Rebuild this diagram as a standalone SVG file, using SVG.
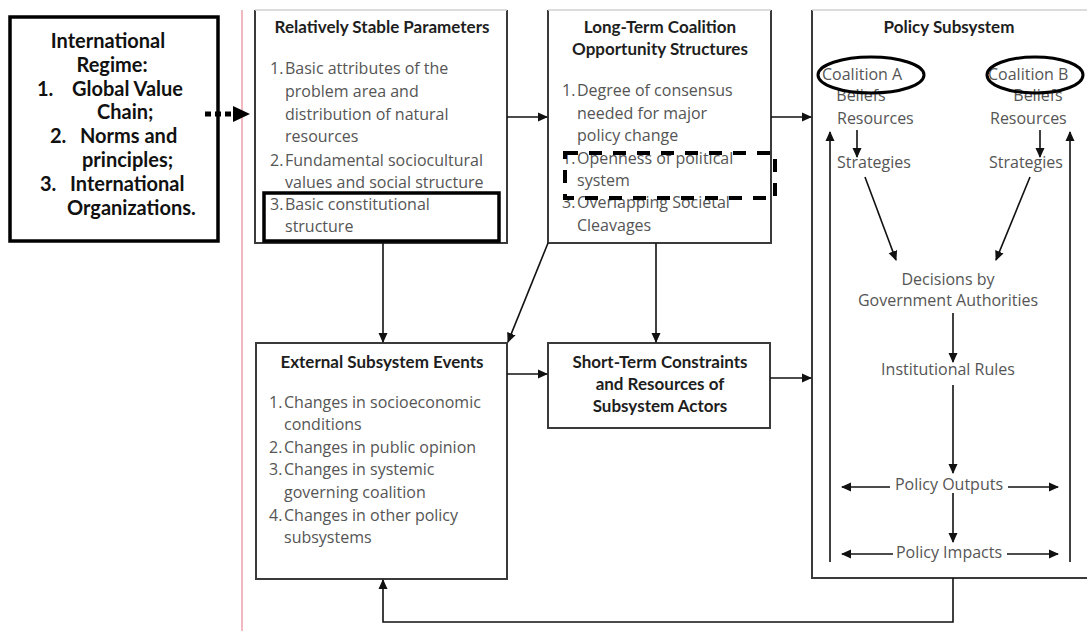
<svg xmlns="http://www.w3.org/2000/svg" width="1087" height="631" viewBox="0 0 1087 631">
<style>
.box{fill:#fff;stroke:#3a3a3a;stroke-width:2}
.topedge{stroke:#d0d0d0;stroke-width:1.5}
.title{font-family:Lato,"Liberation Sans",sans-serif;font-weight:bold;font-size:17px;fill:#1e1e1e;text-anchor:middle}
.body{font-family:"Open Sans","Liberation Sans",sans-serif;font-size:16px;fill:#555}
.mid{text-anchor:middle}
.reg{font-family:Lato,"Liberation Sans",sans-serif;font-weight:bold;font-size:20px;fill:#111}
.conn{stroke:#111;stroke-width:1.6;fill:none}
.thick{fill:none;stroke:#000;stroke-width:3.5}
</style>
<defs>
<marker id="ah" markerWidth="10" markerHeight="10" refX="9" refY="5" orient="auto" markerUnits="userSpaceOnUse">
<path d="M0,0.5 L10,5 L0,9.5 Z" fill="#111"/>
</marker>
</defs>

<line x1="242" y1="10" x2="242" y2="631" stroke="#f2b8bf" stroke-width="2"/>

<g id="international-regime">
<rect x="10" y="17" width="208" height="224" class="thick"/>
<text class="reg" x="108" y="48" text-anchor="middle">International</text>
<text class="reg" x="112" y="72" text-anchor="middle">Regime:</text>
<text class="reg" x="37" y="96">1.</text>
<text class="reg" x="72" y="96">Global Value</text>
<text class="reg" x="97" y="119">Chain;</text>
<text class="reg" x="50" y="143">2.</text>
<text class="reg" x="80" y="143">Norms and</text>
<text class="reg" x="82" y="167">principles;</text>
<text class="reg" x="40" y="191">3.</text>
<text class="reg" x="70" y="191">International</text>
<text class="reg" x="67" y="215">Organizations.</text>
</g>

<g id="stable-parameters">
<path class="box" d="M255,10 V243 H507 V10"/>
<line class="topedge" x1="255" y1="10" x2="507" y2="10"/>
<text class="title" x="382" y="33">Relatively Stable Parameters</text>
<text class="body" x="270" y="74">1.</text><text class="body" x="285" y="74">Basic attributes of the</text>
<text class="body" x="285" y="97">problem area and</text>
<text class="body" x="285" y="120">distribution of natural</text>
<text class="body" x="285" y="142">resources</text>
<text class="body" x="270" y="166">2.</text><text class="body" x="285" y="166">Fundamental sociocultural</text>
<text class="body" x="285" y="188">values and social structure</text>
<text class="body" x="270" y="210">3.</text><text class="body" x="285" y="210">Basic constitutional</text>
<text class="body" x="285" y="232">structure</text>
<rect x="264" y="193" width="235" height="48" class="thick"/>
</g>

<g id="long-term-structures">
<path class="box" d="M548,10 V243 H771 V10"/>
<line class="topedge" x1="548" y1="10" x2="771" y2="10"/>
<text class="title" x="660" y="33">Long-Term Coalition</text>
<text class="title" x="660" y="55">Opportunity Structures</text>
<text class="body" x="562" y="96">1.</text><text class="body" x="577" y="96">Degree of consensus</text>
<text class="body" x="577" y="119">needed for major</text>
<text class="body" x="577" y="141">policy change</text>
<text class="body" x="562" y="164">1.</text><text class="body" x="577" y="164">Openness of political</text>
<text class="body" x="577" y="186">system</text>
<text class="body" x="562" y="208">3.</text><text class="body" x="577" y="208">Overlapping Societal</text>
<text class="body" x="577" y="231">Cleavages</text>
<rect x="565" y="153" width="210" height="45" fill="none" stroke="#000" stroke-width="4" stroke-dasharray="13 11"/>
</g>

<g id="external-events">
<rect class="box" x="256" y="343" width="251" height="236"/>
<text class="title" x="382" y="368">External Subsystem Events</text>
<text class="body" x="269" y="408">1.</text><text class="body" x="284" y="408">Changes in socioeconomic</text>
<text class="body" x="284" y="430">conditions</text>
<text class="body" x="269" y="453">2.</text><text class="body" x="284" y="453">Changes in public opinion</text>
<text class="body" x="269" y="475">3.</text><text class="body" x="284" y="475">Changes in systemic</text>
<text class="body" x="284" y="498">governing coalition</text>
<text class="body" x="269" y="521">4.</text><text class="body" x="284" y="521">Changes in other policy</text>
<text class="body" x="284" y="543">subsystems</text>
</g>

<g id="short-term-constraints">
<rect class="box" x="548" y="343" width="222" height="85"/>
<text class="title" x="660" y="368">Short-Term Constraints</text>
<text class="title" x="660" y="390">and Resources of</text>
<text class="title" x="660" y="412">Subsystem Actors</text>
</g>

<g id="policy-subsystem">
<path class="box" d="M812,10 V578 H1087"/>
<line class="topedge" x1="812" y1="10" x2="1087" y2="10"/>
<text class="title" x="949" y="33">Policy Subsystem</text>
<text class="body" x="822" y="80">Coalition A</text>
<text class="body mid" x="861" y="101">Beliefs</text>
<text class="body" x="837" y="124">Resources</text>
<text class="body" x="837" y="168">Strategies</text>
<ellipse cx="871" cy="75" rx="53" ry="18" fill="none" stroke="#000" stroke-width="3"/>
<text class="body" x="988" y="80">Coalition B</text>
<text class="body mid" x="1038" y="101">Beliefs</text>
<text class="body" x="990" y="124">Resources</text>
<text class="body" x="989" y="168">Strategies</text>
<ellipse cx="1035" cy="75" rx="48" ry="18" fill="none" stroke="#000" stroke-width="3"/>
<text class="body mid" x="948" y="285">Decisions by</text>
<text class="body mid" x="948" y="306">Government Authorities</text>
<text class="body mid" x="948" y="375">Institutional Rules</text>
<text class="body mid" x="949" y="490">Policy Outputs</text>
<text class="body mid" x="949" y="558">Policy Impacts</text>
</g>

<g id="connectors">
<line x1="205" y1="114" x2="233" y2="114" stroke="#000" stroke-width="5" stroke-dasharray="6 4"/>
<polygon points="233,106 250,114 233,122" fill="#000"/>
<line class="conn" x1="507" y1="117" x2="547" y2="117" marker-end="url(#ah)"/>
<line class="conn" x1="771" y1="117" x2="811" y2="117" marker-end="url(#ah)"/>
<line class="conn" x1="383" y1="243" x2="383" y2="342" marker-end="url(#ah)"/>
<line class="conn" x1="656" y1="243" x2="656" y2="342" marker-end="url(#ah)"/>
<line class="conn" x1="548" y1="243" x2="508" y2="342" marker-end="url(#ah)"/>
<line class="conn" x1="507" y1="374" x2="547" y2="374" marker-end="url(#ah)"/>
<line class="conn" x1="770" y1="378" x2="811" y2="378" marker-end="url(#ah)"/>
<path class="conn" d="M953,578 V622 H383 V580" marker-end="url(#ah)"/>
<line class="conn" x1="857" y1="130" x2="857" y2="157" marker-end="url(#ah)"/>
<line class="conn" x1="1040" y1="130" x2="1040" y2="157" marker-end="url(#ah)"/>
<line class="conn" x1="830" y1="562" x2="830" y2="132" marker-end="url(#ah)"/>
<line class="conn" x1="1070" y1="562" x2="1070" y2="132" marker-end="url(#ah)"/>
<line class="conn" x1="865" y1="177" x2="896" y2="260" marker-end="url(#ah)"/>
<line class="conn" x1="1030" y1="177" x2="996" y2="260" marker-end="url(#ah)"/>
<line class="conn" x1="953" y1="313" x2="953" y2="362" marker-end="url(#ah)"/>
<line class="conn" x1="953" y1="385" x2="953" y2="473" marker-end="url(#ah)"/>
<line class="conn" x1="953" y1="493" x2="953" y2="542" marker-end="url(#ah)"/>
<line class="conn" x1="890" y1="487" x2="842" y2="487" marker-end="url(#ah)"/>
<line class="conn" x1="1008" y1="487" x2="1058" y2="487" marker-end="url(#ah)"/>
<line class="conn" x1="893" y1="554" x2="842" y2="554" marker-end="url(#ah)"/>
<line class="conn" x1="1007" y1="554" x2="1058" y2="554" marker-end="url(#ah)"/>
</g>
</svg>
